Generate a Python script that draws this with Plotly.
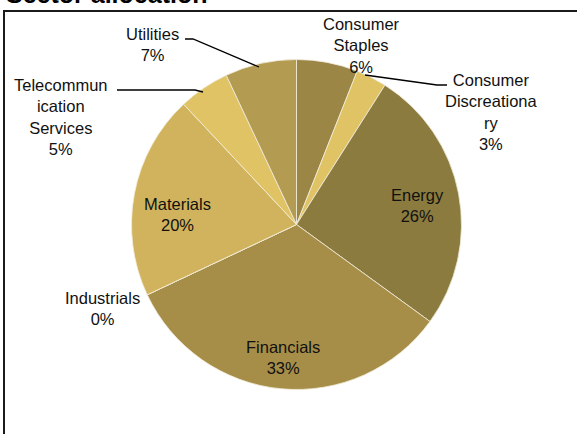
import plotly.graph_objects as go

W, H = 577, 434

sectors = ["Consumer Staples", "Consumer Discretionary", "Energy", "Financials",
           "Industrials", "Materials", "Telecommunication Services", "Utilities"]
display_names = ["Consumer<br>Staples", "Consumer<br>Discreationa<br>ry", "Energy", "Financials",
                 "Industrials", "Materials", "Telecommun<br>ication<br>Services", "Utilities"]
weights = [6, 3, 26, 33, 0, 20, 5, 7]
colors = ["#9C8646", "#E0C364", "#8B7B3E", "#A78E48",
          "#B8A055", "#D0B35C", "#E0C364", "#B39B52"]

# label block centres (pixels)
label_pos = [(361, 46), (491, 112), (417, 205), (283, 357),
             (102, 308), (177, 214), (61, 117), (152, 44)]

# leader lines (pixels)
leaders = [
    [(185, 39), (193, 39), (259, 67)],
    [(117, 90), (195, 90), (203, 92)],
    [(365, 75), (437, 85), (447, 85)],
]

def px(x):
    return x / W

def py(y):
    return 1 - y / H

fig = go.Figure()
fig.add_trace(go.Pie(
    labels=sectors,
    values=weights,
    sort=False,
    direction="clockwise",
    rotation=0,
    marker=dict(colors=colors, line=dict(color="#F3EEDC", width=0.8)),
    textinfo="none",
    showlegend=False,
    domain=dict(x=[131.5 / W, 461.5 / W], y=[py(389.5), py(59.5)]),
))

annotations = []
for name, w, (x, y) in zip(display_names, weights, label_pos):
    annotations.append(dict(
        x=px(x), y=py(y), xref="paper", yref="paper",
        text=f"{name}<br>{w}%", showarrow=False,
        xanchor="center", yanchor="middle", align="center",
        font=dict(family="Liberation Sans, Arial, sans-serif", size=16.5, color="#111111"),
    ))

annotations.append(dict(
    x=px(4), y=py(10), xref="paper", yref="paper",
    text="<b>Sector allocation</b>", showarrow=False,
    xanchor="left", yanchor="bottom",
    font=dict(family="Liberation Sans, Arial, sans-serif", size=25, color="#000000"),
))

shapes = []
for pts in leaders:
    path = "M " + " L ".join(f"{px(x)},{py(y)}" for x, y in pts)
    shapes.append(dict(type="path", path=path, xref="paper", yref="paper",
                       line=dict(color="#000000", width=1.3)))

shapes.append(dict(type="rect", xref="paper", yref="paper",
                   x0=px(4), x1=1.1, y0=-0.1, y1=py(11),
                   line=dict(color="#1a1a1a", width=2), fillcolor="rgba(0,0,0,0)"))

fig.update_layout(
    width=W, height=H,
    margin=dict(l=0, r=0, t=0, b=0),
    paper_bgcolor="white",
    plot_bgcolor="white",
    annotations=annotations,
    shapes=shapes,
)

fig.write_html("out.html")
